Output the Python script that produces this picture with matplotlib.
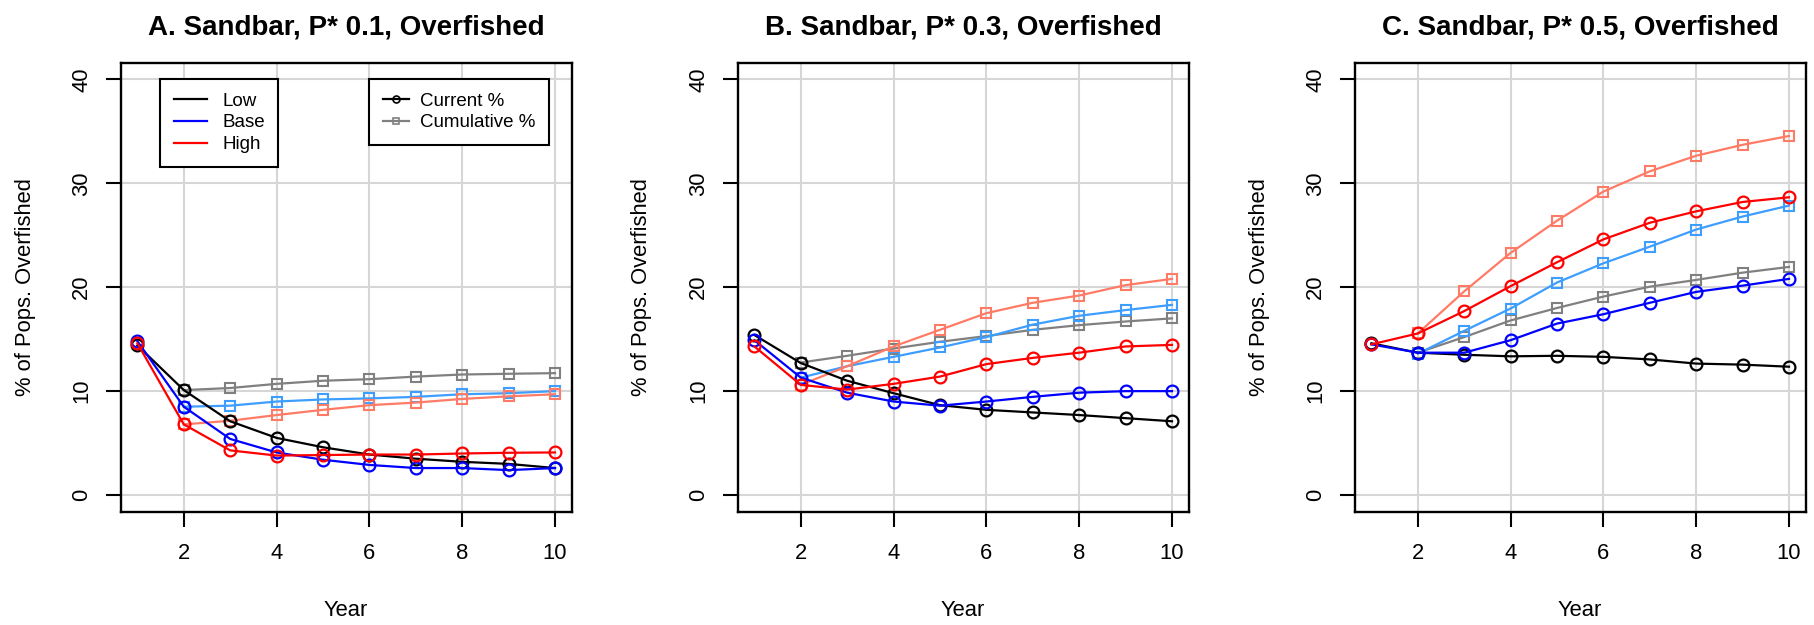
import matplotlib
matplotlib.use('Agg')
import matplotlib.pyplot as plt
from matplotlib.lines import Line2D

plt.rcParams['font.family'] = ['Liberation Sans', 'DejaVu Sans']

years = [1, 2, 3, 4, 5, 6, 7, 8, 9, 10]
cum_years = [2, 3, 4, 5, 6, 7, 8, 9, 10]
x_ticks = [2, 4, 6, 8, 10]
y_ticks = [0, 10, 20, 30, 40]

titles = ["A. Sandbar, P* 0.1, Overfished",
          "B. Sandbar, P* 0.3, Overfished",
          "C. Sandbar, P* 0.5, Overfished"]
scenario_labels = ["Low", "Base", "High"]
type_labels = ["Current %", "Cumulative %"]

# Panel A (P* 0.1)
a_cur_low = [14.4, 10.1, 7.1, 5.5, 4.6, 3.9, 3.5, 3.2, 3.0, 2.6]
a_cur_base = [14.8, 8.5, 5.4, 4.1, 3.4, 2.9, 2.6, 2.6, 2.4, 2.6]
a_cur_high = [14.6, 6.8, 4.3, 3.8, 3.85, 3.9, 3.9, 4.0, 4.07, 4.1]
a_cum_low = [10.1, 10.3, 10.7, 11.0, 11.15, 11.4, 11.6, 11.67, 11.73]
a_cum_base = [8.5, 8.6, 9.0, 9.2, 9.3, 9.45, 9.7, 9.8, 10.0]
a_cum_high = [6.8, 7.15, 7.7, 8.2, 8.65, 8.9, 9.25, 9.5, 9.7]

# Panel B (P* 0.3)
b_cur_low = [15.4, 12.7, 11.0, 9.8, 8.65, 8.2, 7.95, 7.7, 7.4, 7.1]
b_cur_base = [14.9, 11.3, 9.85, 9.0, 8.6, 9.0, 9.45, 9.85, 10.0, 10.0]
b_cur_high = [14.3, 10.6, 10.15, 10.7, 11.4, 12.6, 13.2, 13.7, 14.3, 14.45]
b_cum_low = [12.75, 13.4, 14.1, 14.75, 15.3, 15.9, 16.35, 16.7, 17.0]
b_cum_base = [11.3, 12.4, 13.3, 14.2, 15.2, 16.4, 17.25, 17.8, 18.3]
b_cum_high = [10.6, 12.4, 14.3, 15.9, 17.5, 18.5, 19.2, 20.2, 20.8]

# Panel C (P* 0.5)
c_cur_low = [14.6, 13.7, 13.5, 13.35, 13.4, 13.3, 13.05, 12.65, 12.55, 12.35]
c_cur_base = [14.5, 13.7, 13.7, 14.9, 16.5, 17.4, 18.5, 19.55, 20.15, 20.8]
c_cur_high = [14.5, 15.55, 17.7, 20.1, 22.4, 24.6, 26.2, 27.3, 28.2, 28.65]
c_cum_low = [13.7, 15.2, 16.8, 18.0, 19.1, 20.05, 20.7, 21.4, 21.95]
c_cum_base = [13.6, 15.8, 17.95, 20.45, 22.3, 23.9, 25.55, 26.8, 27.85]
c_cum_high = [15.55, 19.6, 23.3, 26.4, 29.2, 31.15, 32.65, 33.7, 34.55]

panels = [
    (a_cur_low, a_cur_base, a_cur_high, a_cum_low, a_cum_base, a_cum_high),
    (b_cur_low, b_cur_base, b_cur_high, b_cum_low, b_cum_base, b_cum_high),
    (c_cur_low, c_cur_base, c_cur_high, c_cum_low, c_cum_base, c_cum_high),
]

cur_colors = ['#000000', '#0000ff', '#ff0000']
cum_colors = ['#808080', '#3d9eff', '#ff7b66']

W, H = 1814, 625
fig = plt.figure(figsize=(W / 100, H / 100), dpi=100)

lefts = [120.7, 737.7, 1354.7]
ax_w = 451.0
ax_top, ax_bot = 62.7, 511.7

tick_fs = 15.8
legend_fs = 13.5

for i, (data, title) in enumerate(zip(panels, titles)):
    ax = fig.add_axes([lefts[i] / W, (H - ax_bot) / H, ax_w / W, (ax_bot - ax_top) / H])
    cur = data[:3]
    cum = data[3:]
    for k in range(3):
        ax.plot(cum_years, cum[k], color=cum_colors[k], lw=1.6, marker='s', ms=6.5,
                mfc='none', mec=cum_colors[k], mew=1.5, zorder=3)
    for k in range(3):
        ax.plot(years, cur[k], color=cur_colors[k], lw=1.6, marker='o', ms=8.5,
                mfc='none', mec=cur_colors[k], mew=1.6, zorder=4)

    ax.set_xlim(0.64, 10.36)
    ax.set_ylim(-1.6, 41.6)
    ax.set_xticks(x_ticks)
    ax.set_yticks(y_ticks)
    ax.grid(True, color='#d6d6d6', lw=1.5, zorder=0)
    ax.set_axisbelow(True)
    for s in ax.spines.values():
        s.set_linewidth(1.7)
        s.set_color('black')
    ax.tick_params(axis='both', length=10.5, width=1.5, labelsize=tick_fs, color='black')
    ax.tick_params(axis='x', pad=12)
    ax.tick_params(axis='y', pad=10, labelrotation=90)
    for lab in ax.get_yticklabels():
        lab.set_va('center')

    ax.text(0.5, 1.0795, title, transform=ax.transAxes, ha='center', va='center',
            fontsize=20, fontweight='bold')
    ax.set_xlabel('Year', fontsize=tick_fs)
    ax.xaxis.set_label_coords(0.5, -0.219)
    ax.xaxis.label.set_va('center')
    ax.set_ylabel('% of Pops. Overfished', fontsize=tick_fs)
    ax.yaxis.set_label_coords((25 - lefts[0]) / ax_w, 0.5)
    ax.yaxis.label.set_va('center')

    if i == 0:
        top_frac = (ax_bot - 79) / (ax_bot - ax_top)
        h1 = [Line2D([], [], color=c, lw=1.6) for c in cur_colors]
        leg1 = ax.legend(h1, scenario_labels, loc='upper left',
                         bbox_to_anchor=((160 - lefts[0]) / ax_w, top_frac),
                         borderaxespad=0, fontsize=legend_fs, frameon=True, fancybox=False,
                         edgecolor='black', framealpha=1, handlelength=1.8, handletextpad=0.8,
                         borderpad=0.72, labelspacing=0.25)
        leg1.get_frame().set_linewidth(1.5)
        ax.add_artist(leg1)
        h2 = [Line2D([], [], color='black', lw=1.6, marker='o', ms=5, mfc='none', mew=1.2),
              Line2D([], [], color='#808080', lw=1.6, marker='s', ms=4.5, mfc='none', mew=1.2)]
        leg2 = ax.legend(h2, type_labels, loc='upper left',
                         bbox_to_anchor=((369 - lefts[0]) / ax_w, top_frac),
                         borderaxespad=0, fontsize=legend_fs, frameon=True, fancybox=False,
                         edgecolor='black', framealpha=1, handlelength=1.4, handletextpad=0.6,
                         borderpad=0.72, labelspacing=0.25)
        leg2.get_frame().set_linewidth(1.5)

fig.savefig('out.png', dpi=100, facecolor='white')
